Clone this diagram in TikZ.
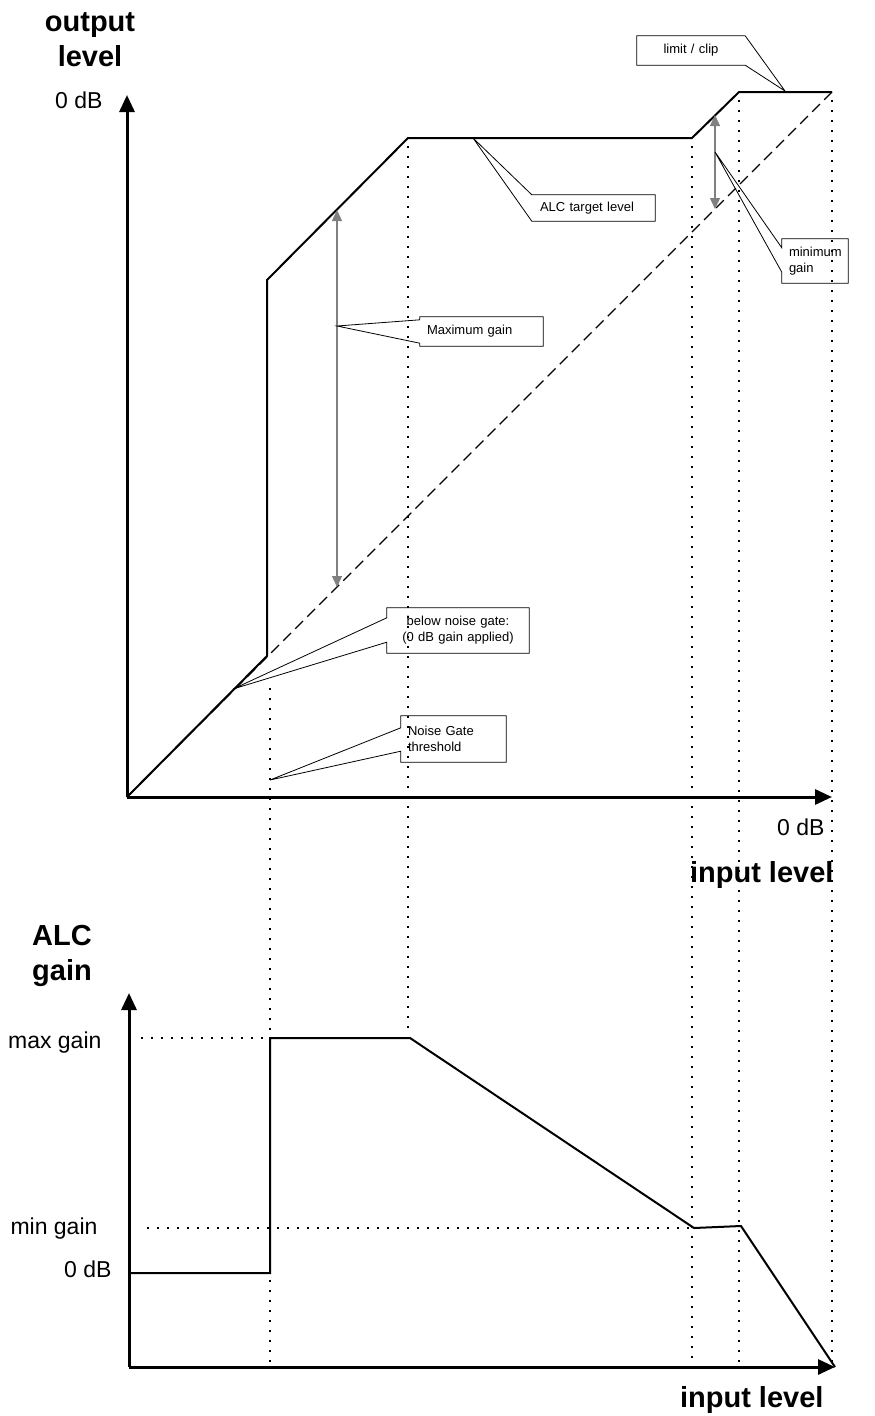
\documentclass[tikz,border=0pt]{standalone}
\usepackage{fontspec}
\setmainfont{Liberation Sans}
\usetikzlibrary{arrows.meta}

\tikzset{
  axis/.style={line width=3pt,-{Triangle[length=17pt,width=15pt]}},
  curve/.style={line width=2pt,line join=miter},
  guide/.style={line width=1.6pt,dash pattern=on 1.6pt off 8.4pt},
  unity/.style={line width=1.2pt,dash pattern=on 11pt off 6pt},
  gainarrow/.style={draw=gray,line width=1.3pt,{Triangle[length=11pt,width=10pt]}-{Triangle[length=11pt,width=10pt]}},
  callout/.style={inner sep=0pt,font=\fontsize{13}{16}\selectfont},
  tail/.style={line width=0.8pt,line join=miter},
  heading/.style={font=\fontsize{29}{35}\selectfont\bfseries,align=center},
  scalelabel/.style={font=\fontsize{23}{27}\selectfont}
}

\begin{document}
\begin{tikzpicture}[x=1pt,y=-1pt]
  \useasboundingbox (0,0) rectangle (875,1416);

  % upper graph: output level against input level
  \coordinate (o0) at (127,797);
  \coordinate (oy) at (127,95);
  \coordinate (ox) at (832,797);
  \coordinate (c1) at (267,656);
  \coordinate (c2) at (267,280);
  \coordinate (c3) at (408,138);
  \coordinate (c4) at (692,138);
  \coordinate (c5) at (739,92);
  \coordinate (c6) at (832,92);

  % guide lines
  \draw[guide] (270,688) -- (270,1032);
  \draw[guide] (270,1280) -- (270,1362);
  \draw[guide] (408,146) -- (408,1034);
  \draw[guide] (692,146) -- (692,1362);
  \draw[guide] (739,100) -- (739,1362);
  \draw[guide] (832,100) -- (832,1362);

  \draw[unity] (o0) -- (c6);
  \draw[curve] (o0) -- (c1) -- (c2) -- (c3) -- (c4) -- (c5) -- (c6);
  \draw[axis] (o0) -- (oy);
  \draw[axis] (o0) -- (ox);

  \node[heading,anchor=base] (outlbl) at (90,66) {output\\level};
  \node[scalelabel,anchor=base east] (out0) at (106,108) {0 dB};
  \node[scalelabel,anchor=base east] (in0) at (828,835) {0 dB};
  \node[heading,anchor=base east] (inlbl) at (837,882) {input level};

  % gain arrows
  \coordinate (mgtop) at (337,210);
  \coordinate (mgbot) at (337,587);
  \coordinate (mntop) at (715,115);
  \coordinate (mnbot) at (715,209);
  \draw[gainarrow] (mgtop) -- (mgbot);
  \draw[gainarrow] (mntop) -- (mnbot);

  % callouts
  \coordinate (limtip) at (785,91);
  \node[callout,text width=108pt,minimum height=29pt,align=center] (limbox) at (691,50.5) {limit / clip};
  \draw[tail] (limbox.north east) -- (limbox.north west) -- (limbox.south west) -- (limbox.south east) -- (limtip) -- cycle;

  \coordinate (alctip) at (473,138);
  \node[callout,inner xsep=8pt,text width=107pt,minimum height=26pt,align=left] (alcbox) at (593.5,208) {ALC target level};
  \draw[tail] (alcbox.north west) -- (alcbox.north east) -- (alcbox.south east) -- (alcbox.south west) -- (alctip) -- cycle;

  \coordinate (mgtip) at (337,326);
  \node[callout,inner xsep=7pt,text width=109pt,minimum height=29pt,align=left] (mgbox) at (481.5,331.5) {Maximum gain};
  \draw[tail] ([yshift=-3pt]mgbox.north west) -- (mgbox.north west) -- (mgbox.north east) -- (mgbox.south east) -- (mgbox.south west) -- ([yshift=3pt]mgbox.south west) -- (mgtip) -- cycle;

  \coordinate (mntip) at (715,152);
  \node[callout,inner xsep=7pt,text width=52pt,minimum height=44pt,align=left] (mnbox) at (815,261) {minimum\\gain};
  \draw[tail] ([yshift=-9pt]mnbox.north west) -- (mnbox.north west) -- (mnbox.north east) -- (mnbox.south east) -- (mnbox.south west) -- ([yshift=11pt]mnbox.south west) -- (mntip) -- cycle;

  \coordinate (bngtip) at (233,689);
  \node[callout,text width=142pt,minimum height=45pt,align=center] (bngbox) at (458,630.5) {below noise gate:\\(0 dB gain applied)};
  \draw[tail] ([yshift=-10pt]bngbox.north west) -- (bngbox.north west) -- (bngbox.north east) -- (bngbox.south east) -- (bngbox.south west) -- ([yshift=11pt]bngbox.south west) -- (bngtip) -- cycle;

  \coordinate (ngtip) at (270,780);
  \node[callout,inner xsep=7pt,text width=91pt,minimum height=46pt,align=left] (ngbox) at (453.5,739) {Noise Gate\\threshold};
  \draw[tail] ([yshift=-12pt]ngbox.north west) -- (ngbox.north west) -- (ngbox.north east) -- (ngbox.south east) -- (ngbox.south west) -- ([yshift=11pt]ngbox.south west) -- (ngtip) -- cycle;

  % lower graph: ALC gain against input level
  \coordinate (g0) at (129,1367);
  \coordinate (gy) at (129,993);
  \coordinate (gx) at (835,1367);
  \coordinate (d1) at (129,1273);
  \coordinate (d2) at (270,1273);
  \coordinate (d3) at (270,1038);
  \coordinate (d4) at (410,1038);
  \coordinate (d5) at (694,1228);
  \coordinate (d6) at (741,1226);

  \draw[guide] (141,1038) -- (266,1038);
  \draw[guide] (147,1228) -- (690,1228);

  \draw[curve] (d1) -- (d2) -- (d3) -- (d4) -- (d5) -- (d6) -- (gx);
  \draw[axis] (g0) -- (gy);
  \draw[axis] (g0) -- (gx);

  \node[heading,anchor=base] (alclbl) at (62,980) {ALC\\gain};
  \node[scalelabel,anchor=base east] (maxlbl) at (105,1048) {max gain};
  \node[scalelabel,anchor=base east] (minlbl) at (101,1234) {min gain};
  \node[scalelabel,anchor=base east] (zerolbl) at (115,1277) {0 dB};
  \node[heading,anchor=base east] (inlbl2) at (827,1407) {input level};
\end{tikzpicture}
\end{document}
